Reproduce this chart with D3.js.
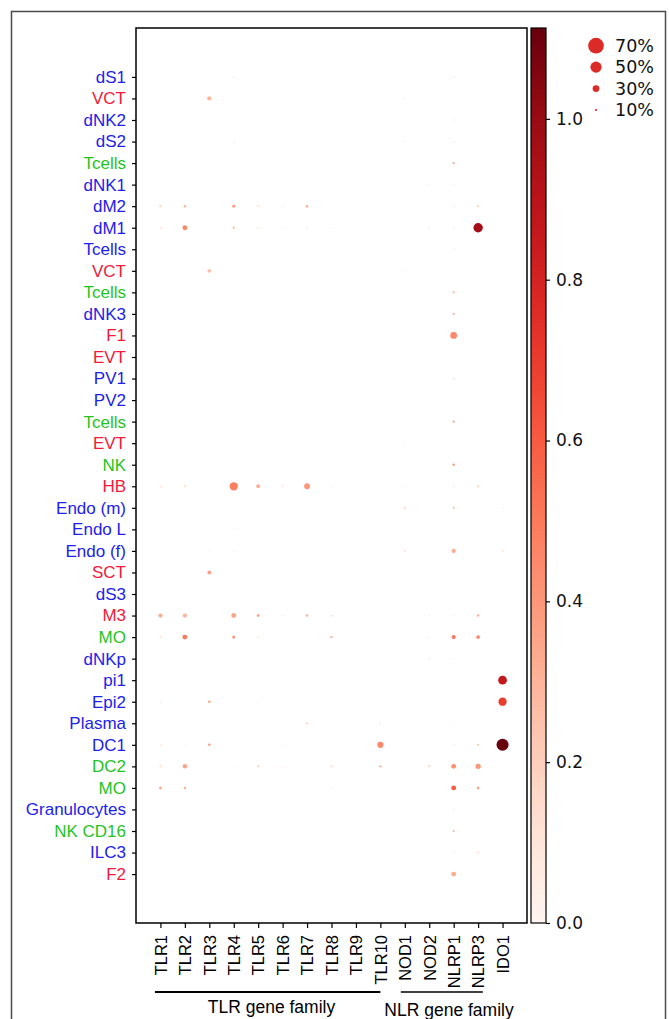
<!DOCTYPE html>
<html>
<head>
<meta charset="utf-8">
<script src="https://cdn.jsdelivr.net/npm/d3@7"></script>
<style>
  html, body { margin: 0; padding: 0; background: #fff; }
  svg { display: block; }
</style>
</head>
<body>
<svg id="chart" width="669" height="1019"></svg>
<script>
// ---------------- DATA ----------------
const genes = ["TLR1","TLR2","TLR3","TLR4","TLR5","TLR6","TLR7","TLR8","TLR9","TLR10","NOD1","NOD2","NLRP1","NLRP3","IDO1"];

const cellTypes = ["dS1","VCT","dNK2","dS2","Tcells","dNK1","dM2","dM1","Tcells","VCT","Tcells","dNK3","F1","EVT","PV1","PV2","Tcells","EVT","NK","HB","Endo (m)","Endo L","Endo (f)","SCT","dS3","M3","MO","dNKp","pi1","Epi2","Plasma","DC1","DC2","MO","Granulocytes","NK CD16","ILC3","F2"];

// label colour group per cell type: b = blue, r = red, g = green
const labelGroups = ["b","r","b","b","g","b","b","b","b","r","g","b","r","r","b","b","g","r","g","r","b","b","b","r","b","r","g","b","b","b","b","b","g","g","b","g","b","r"];

const colorbarTicks = [0.0, 0.2, 0.4, 0.6, 0.8, 1.0];
const colorMax = 1.113;
const legendPercents = [70, 50, 30, 10];

// per gene: [row index, % of cells expressing, mean expression]
const dots_TLR1  = [[6,10,0.2],[7,7,0.15],[19,8,0.15],[25,19,0.32],[26,7,0.2],[29,6,0.1],[31,7,0.12],[32,10,0.15],[33,12,0.35],[34,4,0.05],[36,4,0.05]];
const dots_TLR2  = [[6,11,0.3],[7,22,0.45],[19,8,0.2],[25,19,0.3],[26,22,0.5],[31,6,0.05],[32,20,0.35],[33,11,0.32],[36,4,0.05]];
const dots_TLR3  = [[1,19,0.3],[9,17,0.25],[13,4,0.06],[17,4,0.06],[22,6,0.1],[23,17,0.38],[28,4,0.05],[29,12,0.35],[31,12,0.35],[37,6,0.06]];
const dots_TLR4  = [[0,7,0.12],[3,7,0.12],[6,13,0.4],[7,10,0.3],[14,4,0.04],[19,37,0.48],[20,6,0.06],[21,7,0.08],[22,7,0.1],[25,22,0.35],[26,14,0.4],[32,6,0.08]];
const dots_TLR5  = [[6,8,0.15],[7,8,0.1],[19,17,0.32],[21,6,0.05],[25,13,0.35],[26,7,0.15],[29,7,0.06],[32,10,0.2]];
const dots_TLR6  = [[6,7,0.08],[7,6,0.06],[19,8,0.15],[25,6,0.08],[31,6,0.06],[32,7,0.1]];
const dots_TLR7  = [[6,11,0.35],[7,7,0.12],[19,26,0.4],[25,11,0.3],[26,6,0.08],[30,9,0.2],[32,6,0.06]];
const dots_TLR8  = [[6,6,0.06],[7,6,0.08],[19,7,0.06],[25,8,0.15],[26,10,0.35],[32,9,0.2],[33,6,0.08]];
const dots_TLR9  = [];
const dots_TLR10 = [[30,7,0.12],[31,28,0.45],[32,11,0.3]];
const dots_NOD1  = [[1,7,0.08],[3,7,0.05],[9,7,0.06],[13,6,0.04],[17,6,0.05],[19,7,0.08],[20,9,0.2],[21,6,0.04],[22,8,0.15],[32,6,0.08]];
const dots_NOD2  = [[2,4,0.03],[5,7,0.05],[7,7,0.12],[25,6,0.05],[26,7,0.08],[27,7,0.1],[32,9,0.2]];
const dots_NLRP1 = [[0,7,0.1],[2,7,0.08],[3,7,0.1],[4,10,0.35],[5,6,0.06],[6,7,0.12],[7,7,0.12],[8,7,0.1],[10,10,0.3],[11,10,0.3],[12,30,0.45],[14,8,0.2],[15,6,0.08],[16,10,0.35],[18,11,0.38],[19,8,0.12],[20,9,0.3],[22,19,0.32],[25,6,0.05],[26,19,0.5],[27,6,0.05],[30,6,0.06],[31,7,0.12],[32,22,0.42],[33,22,0.6],[34,7,0.08],[35,9,0.3],[36,7,0.08],[37,22,0.32]];
const dots_NLRP3 = [[6,9,0.25],[7,42,0.97],[8,6,0.04],[19,10,0.2],[25,11,0.3],[26,17,0.45],[27,4,0.04],[31,9,0.25],[32,24,0.4],[33,11,0.4],[34,4,0.04],[36,8,0.15]];
const dots_IDO1  = [[20,7,0.08],[22,8,0.15],[28,39,0.86],[29,37,0.7],[31,54,1.11],[32,6,0.05]];

const dotsByGene = [dots_TLR1,dots_TLR2,dots_TLR3,dots_TLR4,dots_TLR5,dots_TLR6,dots_TLR7,dots_TLR8,dots_TLR9,dots_TLR10,dots_NOD1,dots_NOD2,dots_NLRP1,dots_NLRP3,dots_IDO1];

const families = [
  {name: "TLR gene family", from: "TLR1", to: "TLR10", padL: -5.5, padR: 0, tx: 271.5, ty: 1013, sw: 2.2},
  {name: "NLR gene family", from: "NOD1", to: "NLRP3", padL: -4, padR: 4.7, tx: 449, ty: 1016, sw: 1.6}
];

// ---------------- DRAWING ----------------
const groupColor = {b: "#2121ee", r: "#f2193a", g: "#1fc41f"};
const svg = d3.select("#chart");
const plot = {left: 136, right: 527, top: 28, bottom: 923};

// outer frame
svg.append("rect").attr("x", 11.5).attr("y", 11.5).attr("width", 654).attr("height", 1030)
  .attr("fill", "none").attr("stroke", "#4a4a4a").attr("stroke-width", 1.5);

const x = d3.scalePoint().domain(genes).range([plot.left, plot.right]).padding(1);
const y = d3.scalePoint().domain(d3.range(cellTypes.length)).range([plot.top, plot.bottom]).padding(2.27);
const r = d3.scaleLinear().domain([0, 100]).range([0, 11.2]);
const color = d3.scaleSequential(d3.interpolateReds).domain([0, colorMax]);

// dots
const dots = [];
dotsByGene.forEach((arr, gi) => arr.forEach(([row, pct, mean]) => dots.push({gene: genes[gi], row, pct, mean})));
svg.append("g").selectAll("circle").data(dots).join("circle")
  .attr("cx", d => x(d.gene)).attr("cy", d => y(d.row))
  .attr("r", d => r(d.pct)).attr("fill", d => color(d.mean));

// plot border
svg.append("rect").attr("x", plot.left).attr("y", plot.top)
  .attr("width", plot.right - plot.left).attr("height", plot.bottom - plot.top)
  .attr("fill", "none").attr("stroke", "#000").attr("stroke-width", 1.5);

// y axis
const yAxis = svg.append("g").attr("transform", `translate(${plot.left},0)`)
  .call(d3.axisLeft(y).tickSize(4).tickPadding(6).tickFormat(i => cellTypes[i]));
yAxis.select(".domain").remove();
yAxis.selectAll("text").attr("font-family", "'Liberation Sans', Arial, sans-serif")
  .attr("font-size", 17).attr("fill", (d) => groupColor[labelGroups[d]]);
yAxis.selectAll("line").attr("stroke", "#000").attr("stroke-width", 1.2);

// x axis
const xAxis = svg.append("g").attr("transform", `translate(0,${plot.bottom})`)
  .call(d3.axisBottom(x).tickSize(5));
xAxis.select(".domain").remove();
xAxis.selectAll("line").attr("stroke", "#000").attr("stroke-width", 1.2);
xAxis.selectAll("text")
  .attr("y", 0).attr("x", -12).attr("dy", "0.35em")
  .attr("transform", "rotate(-90)")
  .style("text-anchor", "end")
  .attr("font-family", "'Liberation Sans', Arial, sans-serif")
  .attr("font-size", 16.5).attr("fill", "#000");

// family brackets
families.forEach(f => {
  svg.append("line")
    .attr("x1", x(f.from) + f.padL).attr("x2", x(f.to) + f.padR)
    .attr("y1", 992).attr("y2", 992)
    .attr("stroke", "#000").attr("stroke-width", f.sw);
  svg.append("text").attr("x", f.tx).attr("y", f.ty)
    .attr("text-anchor", "middle")
    .attr("font-family", "'Liberation Sans', Arial, sans-serif")
    .attr("font-size", 17.5).attr("fill", "#000").text(f.name);
});

// colorbar
const cb = {x: 531, w: 15};
const cScale = d3.scaleLinear().domain([0, colorMax]).range([plot.bottom, plot.top]);
const defs = svg.append("defs");
const grad = defs.append("linearGradient").attr("id", "cbgrad")
  .attr("x1", 0).attr("y1", 1).attr("x2", 0).attr("y2", 0);
d3.range(0, 1.0001, 0.05).forEach(t => {
  grad.append("stop").attr("offset", t).attr("stop-color", color(t * colorMax));
});
svg.append("rect").attr("x", cb.x).attr("y", plot.top).attr("width", cb.w)
  .attr("height", plot.bottom - plot.top).attr("fill", "url(#cbgrad)")
  .attr("stroke", "#000").attr("stroke-width", 1.2);
const cAxis = svg.append("g").attr("transform", `translate(${cb.x + cb.w},0)`)
  .call(d3.axisRight(cScale).tickValues(colorbarTicks).tickFormat(d3.format(".1f")).tickSize(4).tickPadding(6));
cAxis.select(".domain").remove();
cAxis.selectAll("line").attr("stroke", "#000").attr("stroke-width", 1.2);
cAxis.selectAll("text").attr("font-family", "'DejaVu Sans', sans-serif")
  .attr("font-size", 17).attr("fill", "#111");

// size legend
const legY = d3.scalePoint().domain(legendPercents).range([45.7, 110]);
const leg = svg.append("g");
leg.selectAll("circle").data(legendPercents).join("circle")
  .attr("cx", 596).attr("cy", d => legY(d)).attr("r", d => r(d)).attr("fill", "#dc2a26");
leg.selectAll("text").data(legendPercents).join("text")
  .attr("x", 615).attr("y", d => legY(d)).attr("dy", "0.36em")
  .attr("font-family", "'DejaVu Sans', sans-serif").attr("font-size", 17.5)
  .attr("fill", "#111").text(d => d + "%");
</script>
</body>
</html>
